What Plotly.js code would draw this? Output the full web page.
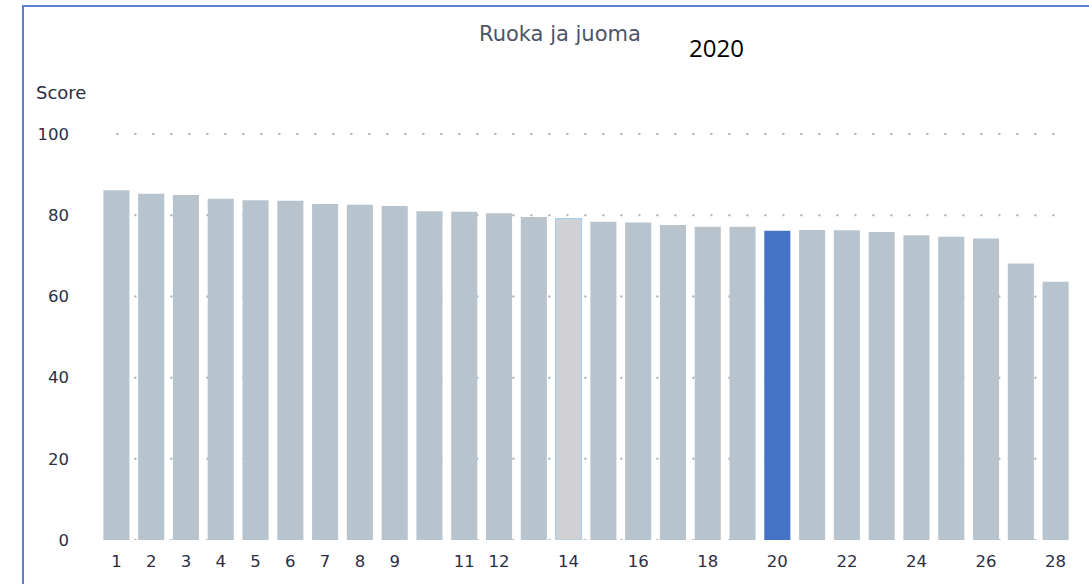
<!DOCTYPE html>
<html>
<head>
<meta charset="utf-8">
<script src="https://cdn.plot.ly/plotly-3.0.1.min.js"></script>
<style>
  html, body { margin: 0; padding: 0; background: #ffffff; }
  #frame { position: absolute; left: 22px; top: 5px; width: 1200px; height: 700px;
           border-left: 2px solid #5b80d2; border-top: 2px solid #5b80d2; pointer-events: none; z-index: 5; }
  #chart { position: absolute; left: 0; top: 0; width: 1089px; height: 584px; }
</style>
</head>
<body>
<div id="chart"></div>
<div id="frame"></div>
<script>
// ---- data ----
const ranks = [1,2,3,4,5,6,7,8,9,10,11,12,13,14,15,16,17,18,19,20,21,22,23,24,25,26,27,28];
const scores = [86.2,85.3,85.0,84.1,83.7,83.6,82.8,82.6,82.3,81.0,80.9,80.5,79.6,79.2,78.4,78.2,77.6,77.2,77.2,76.2,76.4,76.3,75.9,75.1,74.7,74.3,68.1,63.6];
const highlightGray = 14;
const highlightBlue = 20;
const tickRanks = [1,2,3,4,5,6,7,8,9,11,12,14,16,18,20,22,24,26,28];
const tickLabels = tickRanks.map(String);
const yTicks = [0,20,40,60,80,100];
const chartTitle = "Ruoka ja juoma";
const yearLabel = "2020";
const yLabel = "Score";

// ---- styles ----
const FONT = "'DejaVu Sans', Verdana, sans-serif";
const barColors = ranks.map(r => r === highlightBlue ? "#4472c4" : (r === highlightGray ? "#d1d0d2" : "#b8c4cd"));
const lineColors = ranks.map(r => r === highlightGray ? "#9ccdf0" : "rgba(0,0,0,0)");
const lineWidths = ranks.map(r => r === highlightGray ? 1 : 0);

const trace = {
  type: "bar",
  x: ranks,
  y: scores,
  marker: { color: barColors, line: { color: lineColors, width: lineWidths } },
  hoverinfo: "x+y"
};

const gridShapes = yTicks.map(v => ({
  type: "line", xref: "x", yref: "y", x0: 1, x1: 28, y0: v, y1: v,
  layer: "below", line: { color: "#a3adba", width: 2, dash: "2px,16px" }
}));

const layout = {
  width: 1089, height: 584,
  margin: { l: 99, r: 16, t: 126, b: 44 },
  paper_bgcolor: "rgba(0,0,0,0)",
  plot_bgcolor: "rgba(0,0,0,0)",
  showlegend: false,
  bargap: 0.25,
  font: { family: FONT, color: "#2c2d45" },
  xaxis: {
    range: [0.5, 28.5], tickmode: "array", tickvals: tickRanks, ticktext: tickLabels,
    showgrid: false, zeroline: false, showline: false, ticks: "",
    ticklabelstandoff: 9,
    tickfont: { size: 16.5, color: "#2c2d45", family: FONT },
    fixedrange: true
  },
  yaxis: {
    range: [0, 102], tickmode: "array", tickvals: yTicks,
    showgrid: false, zeroline: false, showline: false, ticks: "",
    ticklabelstandoff: 29,
    tickfont: { size: 16.5, color: "#2c2d45", family: FONT },
    fixedrange: true
  },
  shapes: gridShapes,
  annotations: [
    { text: chartTitle, xref: "paper", yref: "paper", x: 0.4738, y: 1.222, xanchor: "center", yanchor: "middle",
      showarrow: false, font: { size: 21, color: "#4c5568", family: FONT } },
    { text: yearLabel, xref: "paper", yref: "paper", x: 0.634, y: 1.19, xanchor: "center", yanchor: "middle",
      showarrow: false, font: { size: 24, color: "#000000", family: "'Open Sans', 'Noto Sans', sans-serif" } },
    { text: yLabel, xref: "paper", yref: "paper", x: -0.0667, y: 1.08, xanchor: "left", yanchor: "middle",
      showarrow: false, font: { size: 18, color: "#2c2d45", family: FONT } }
  ]
};

Plotly.newPlot("chart", [trace], layout, { displayModeBar: false, staticPlot: true });
</script>
</body>
</html>
